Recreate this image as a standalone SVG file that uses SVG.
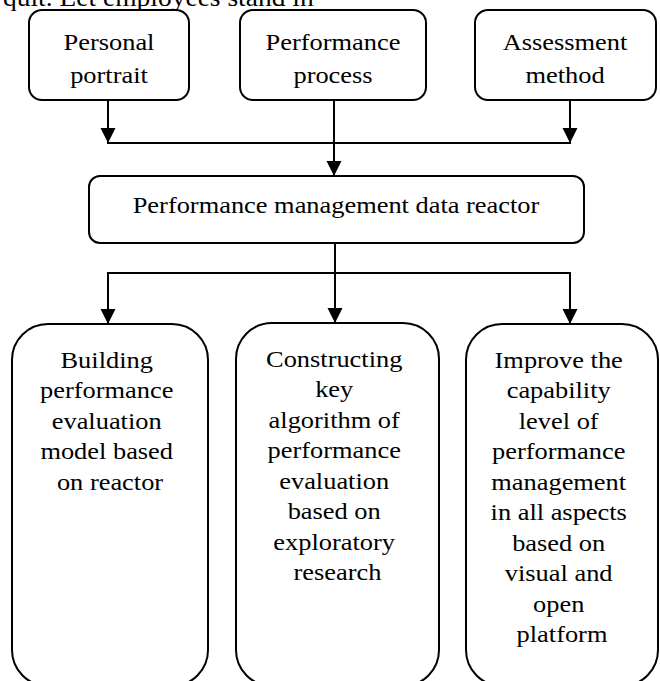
<svg xmlns="http://www.w3.org/2000/svg" width="660" height="681" viewBox="0 0 660 681">
<style>
  .box { fill: #ffffff; stroke: #000000; stroke-width: 2; }
  .t { font-family: "Liberation Serif", "Times New Roman", serif; font-size: 24px; fill: #000000; text-anchor: middle; }
  .lead { font-family: "Liberation Serif", "Times New Roman", serif; font-size: 25px; fill: #000000; }
  .conn { fill: none; stroke: #000000; stroke-width: 2; }
</style>
<defs>
  <marker id="arrow" markerUnits="userSpaceOnUse" markerWidth="16" markerHeight="16" refX="15" refY="7.5" orient="auto">
    <path d="M0,0 L15,7.5 L0,15 Z" fill="#000000"/>
  </marker>
</defs>
<rect width="660" height="681" fill="#ffffff"/>
<text class="lead" transform="translate(3,6) scale(1.1 1)" x="0" y="0">quit. Let employees stand in</text>

<g id="connectors">
  <line class="conn" x1="108" y1="100" x2="108" y2="143" marker-end="url(#arrow)"/>
  <line class="conn" x1="570" y1="100" x2="570" y2="143" marker-end="url(#arrow)"/>
  <line class="conn" x1="334" y1="100" x2="334" y2="143"/>
  <line class="conn" x1="107" y1="143" x2="571" y2="143"/>
  <line class="conn" x1="334" y1="143" x2="334" y2="176" marker-end="url(#arrow)"/>
  <line class="conn" x1="335" y1="243" x2="335" y2="273"/>
  <line class="conn" x1="107" y1="273" x2="571" y2="273"/>
  <line class="conn" x1="108" y1="273" x2="108" y2="324" marker-end="url(#arrow)"/>
  <line class="conn" x1="335" y1="273" x2="335" y2="323" marker-end="url(#arrow)"/>
  <line class="conn" x1="570" y1="273" x2="570" y2="324" marker-end="url(#arrow)"/>
</g>

<g id="personal-portrait">
  <rect class="box" x="29" y="10" width="160" height="90" rx="13"/>
  <text class="t" transform="translate(109,0) scale(1.1 1)"><tspan x="0" y="50">Personal</tspan><tspan x="0" y="83">portrait</tspan></text>
</g>
<g id="performance-process">
  <rect class="box" x="240" y="10" width="186" height="90" rx="13"/>
  <text class="t" transform="translate(333,0) scale(1.1 1)"><tspan x="0" y="50">Performance</tspan><tspan x="0" y="83">process</tspan></text>
</g>
<g id="assessment-method">
  <rect class="box" x="475" y="10" width="181" height="90" rx="13"/>
  <text class="t" transform="translate(565,0) scale(1.1 1)"><tspan x="0" y="50">Assessment</tspan><tspan x="0" y="83">method</tspan></text>
</g>

<g id="data-reactor">
  <rect class="box" x="89" y="176" width="495" height="67" rx="11"/>
  <text class="t" transform="translate(336,0) scale(1.1 1)"><tspan x="0" y="213">Performance management data reactor</tspan></text>
</g>

<g id="evaluation-model">
  <rect class="box" x="12" y="324" width="196" height="362" rx="36"/>
  <text class="t" transform="translate(110,0) scale(1.1 1)">
    <tspan x="0" y="368">Building</tspan>
    <tspan x="0" y="398.5">performance</tspan>
    <tspan x="0" y="429">evaluation</tspan>
    <tspan x="0" y="459.5">model based</tspan>
    <tspan x="0" y="490">on reactor</tspan>
  </text>
</g>

<g id="key-algorithm">
  <rect class="box" x="236" y="323" width="203" height="363" rx="36"/>
  <text class="t" transform="translate(337.5,0) scale(1.1 1)">
    <tspan x="0" y="367">Constructing</tspan>
    <tspan x="0" y="397.5">key</tspan>
    <tspan x="0" y="428">algorithm of</tspan>
    <tspan x="0" y="458.5">performance</tspan>
    <tspan x="0" y="489">evaluation</tspan>
    <tspan x="0" y="519.5">based on</tspan>
    <tspan x="0" y="550">exploratory</tspan>
    <tspan x="0" y="580.5">research</tspan>
  </text>
</g>

<g id="capability-level">
  <rect class="box" x="466" y="324" width="192" height="362" rx="36"/>
  <text class="t" transform="translate(562,0) scale(1.1 1)">
    <tspan x="0" y="368">Improve the</tspan>
    <tspan x="0" y="398.5">capability</tspan>
    <tspan x="0" y="429">level of</tspan>
    <tspan x="0" y="459.5">performance</tspan>
    <tspan x="0" y="490">management</tspan>
    <tspan x="0" y="520.5">in all aspects</tspan>
    <tspan x="0" y="551">based on</tspan>
    <tspan x="0" y="581.5">visual and</tspan>
    <tspan x="0" y="612">open</tspan>
    <tspan x="0" y="642.5">platform</tspan>
  </text>
</g>
</svg>
